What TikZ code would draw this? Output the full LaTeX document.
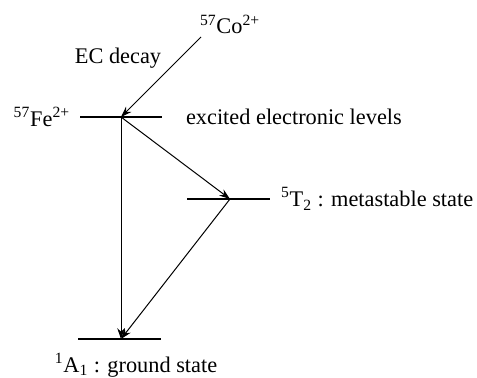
\documentclass[tikz,border=0pt]{standalone}
\usepackage{fontspec}
\setmainfont{Liberation Serif}
\usepackage{tikz}
\usetikzlibrary{arrows.meta,positioning,calc}

\begin{document}
\begin{tikzpicture}[x=0.6pt, y=-0.6pt,
    level/.style={line width=1.3pt},
    trans/.style={-{Stealth[length=6.5pt,width=4.5pt]}, line width=0.6pt},
    lab/.style={font=\fontsize{13.4}{15}\selectfont, inner sep=1pt}]
  \useasboundingbox (0,0) rectangle (477,378);
  % energy levels
  \coordinate (fe) at (121,117);
  \coordinate (mt) at (230,199);
  \coordinate (gs) at (121,339);
  \coordinate (co) at (201,37);
  \foreach \c/\l/\r in {fe/-41/41, mt/-43/40, gs/-43/40}{
    \draw[level] ($(\c)+(\l,0)$) -- ($(\c)+(\r,0)$);}
  % labels
  \node[lab, anchor=south west] (colab) at (198,36) {\textsuperscript{57}Co\textsuperscript{2+}};
  \node[lab] (eclab) at (118,58) {EC decay};
  \node[lab, anchor=east] (felab) at (72,117) {\textsuperscript{57}Fe\textsuperscript{2+}};
  \node[lab, anchor=west] (exlab) at (184,117) {excited electronic levels};
  \node[lab, anchor=west] (mtlab) at (279,199) {\textsuperscript{5}T\textsubscript{2} : metastable state};
  \node[lab] (gslab) at (136,365) {\textsuperscript{1}A\textsubscript{1} : ground state};
  % transitions
  \draw[trans] (co) -- (fe);
  \draw[trans] (fe) -- (mt);
  \draw[trans] (fe) -- (gs);
  \draw[trans] (mt) -- (gs);
\end{tikzpicture}
\end{document}
